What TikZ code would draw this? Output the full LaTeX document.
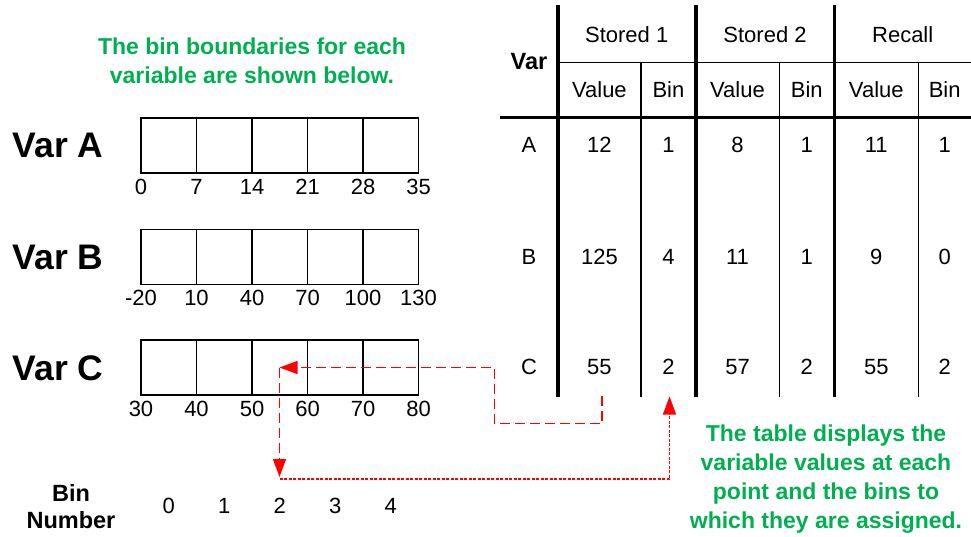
\documentclass[tikz,border=0pt]{standalone}
\usepackage{fontspec}
\setmainfont{Liberation Sans}
\usetikzlibrary{arrows.meta}
\definecolor{grn}{RGB}{0,176,80}
\begin{document}
\begin{tikzpicture}[x=1pt,y=-1pt,
  txt/.style={inner sep=0pt,font=\fontsize{22}{26}\selectfont},
  varlbl/.style={inner sep=0pt,font=\fontsize{35.5}{40}\selectfont\bfseries},
  note/.style={inner sep=0pt,align=center,text=grn,font=\fontsize{23}{29}\selectfont\bfseries},
  bnum/.style={inner sep=0pt,font=\fontsize{23.5}{27}\selectfont\bfseries},
  binbox/.style={draw=black,line width=1.4pt},
  thick line/.style={line width=3.6pt},
  thin line/.style={line width=1.1pt},
  redlong/.style={draw=red,line width=1.4pt,dash pattern=on 10pt off 5pt,-{Triangle[length=18pt,width=13pt]}},
  redshort/.style={draw=red,line width=1.3pt,dash pattern=on 3pt off 1.5pt,-{Triangle[length=18pt,width=13pt]}}
]
\useasboundingbox (0,0) rectangle (971,536);

% Left note
\node[note] (topnote) at (252,61) {The bin boundaries for each\\variable are shown below.};

% Var labels
\node[varlbl] (va) at (58,145) {Var A};
\node[varlbl] (vb) at (58,257) {Var B};
\node[varlbl] (vc) at (58,368) {Var C};

% Bin boxes
\foreach \name/\yt in {A/118,B/229.5,C/340}{
  \foreach \i [evaluate=\i as \xl using 141+55.5*\i] in {0,...,4}{
    \draw[binbox] (\xl,\yt) rectangle ++(55.5,55) node[pos=0.5,inner sep=0pt] (box\name\i) {};
  }
}
% Boundary labels
\foreach \v [count=\k from 0, evaluate=\k as \xx using 141+55.5*\k] in {0,7,14,21,28,35}{
  \node[txt] (la\k) at (\xx,187) {\v};
}
\foreach \v [count=\k from 0, evaluate=\k as \xx using 141+55.5*\k] in {-20,10,40,70,100,130}{
  \node[txt] (lb\k) at (\xx,298) {\v};
}
\foreach \v [count=\k from 0, evaluate=\k as \xx using 141+55.5*\k] in {30,40,50,60,70,80}{
  \node[txt] (lc\k) at (\xx,409) {\v};
}

% Bin number row
\node[bnum] (binlbl) at (71,493) {Bin};
\node[bnum] (numlbl) at (71,520) {Number};
\foreach \v [evaluate=\v as \xx using 168.75+55.5*\v] in {0,...,4}{
  \node[txt] (bn\v) at (\xx,506) {\v};
}

% Table lines
\draw[thick line] (500,117.3) -- (971,117.3);
\draw[thin line] (557.7,62.7) -- (971,62.7);
\foreach \xx in {557.7,695.7,834.3}{
  \draw[thick line] (\xx,5) -- (\xx,397);
}
\foreach \xx in {641,779.3,918.3}{
  \draw[thin line] (\xx,62.7) -- (\xx,397);
}

% Table header
\node[bnum] (hvar) at (529,62) {Var};
\node[txt] (hs1) at (626.7,35) {Stored 1};
\node[txt] (hs2) at (765,35) {Stored 2};
\node[txt] (hrc) at (902.7,35) {Recall};
\foreach \xx/\t/\n in {599.4/Value/1,668.4/Bin/2,737.5/Value/3,806.8/Bin/4,876.3/Value/5,944.7/Bin/6}{
  \node[txt] (sub\n) at (\xx,90) {\t};
}

% Table rows
\foreach \r/\yy/\a/\b/\c/\d/\e/\f in {A/145/12/1/8/1/11/1,B/257/125/4/11/1/9/0,C/367/55/2/57/2/55/2}{
  \node[txt] (r\r0) at (529,\yy) {\r};
  \node[txt] (r\r1) at (599.4,\yy) {\a};
  \node[txt] (r\r2) at (668.4,\yy) {\b};
  \node[txt] (r\r3) at (737.5,\yy) {\c};
  \node[txt] (r\r4) at (806.8,\yy) {\d};
  \node[txt] (r\r5) at (876.3,\yy) {\e};
  \node[txt] (r\r6) at (944.7,\yy) {\f};
}

% Right note
\node[note] (rightnote) at (826,479) {The table displays the\\variable values at each\\point and the bins to\\which they are assigned.};

% Red arrows
\coordinate (s55) at (602,396);
\coordinate (p55) at (279.5,367.5);
\coordinate (pbin) at (279.5,477);
\coordinate (qbin) at (279.5,479);
\coordinate (t2) at (669.5,396.5);
\draw[redlong] (s55) -- (602,423.5) -- (494.5,423.5) -- (494.5,367.5) -- (p55);
\draw[redlong] (p55) -- (pbin);
\draw[redshort] (qbin) -- (669.5,479) -- (t2);
\end{tikzpicture}
\end{document}
